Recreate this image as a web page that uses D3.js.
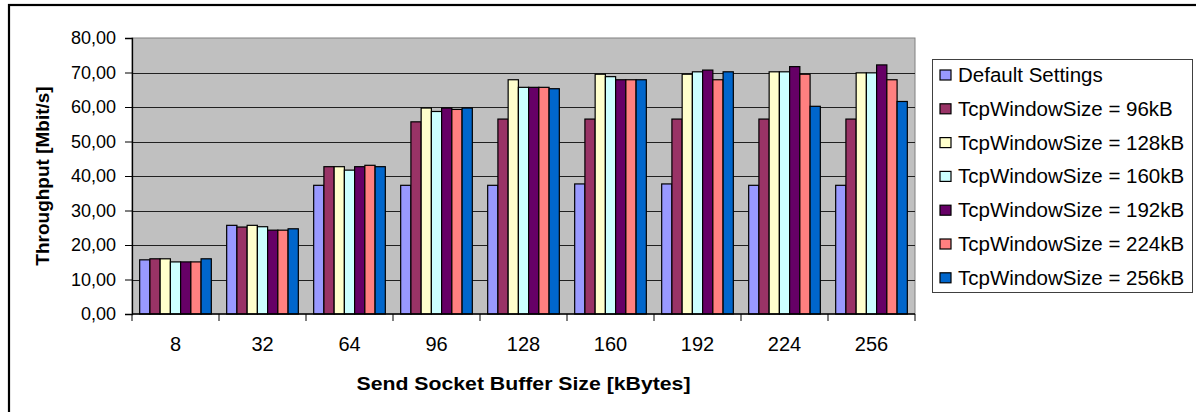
<!DOCTYPE html>
<html>
<head>
<meta charset="utf-8">
<script src="https://cdn.jsdelivr.net/npm/d3@7"></script>
<style>
  html, body { margin: 0; padding: 0; background: #fff; }
  svg { display: block; font-family: Arial, "Liberation Sans", sans-serif; }
</style>
</head>
<body>
<svg id="chart" width="1196" height="412"></svg>
<script>
// Values
const categories = ['8', '32', '64', '96', '128', '160', '192', '224', '256'];
const seriesNames = [
  'Default Settings',
  'TcpWindowSize = 96kB',
  'TcpWindowSize = 128kB',
  'TcpWindowSize = 160kB',
  'TcpWindowSize = 192kB',
  'TcpWindowSize = 224kB',
  'TcpWindowSize = 256kB'
];
const defaultSettings = [15.7, 25.7, 37.3, 37.3, 37.3, 37.7, 37.7, 37.3, 37.3];
const win96 = [16.0, 25.2, 42.7, 55.7, 56.5, 56.5, 56.5, 56.5, 56.5];
const win128 = [16.0, 25.7, 42.7, 59.7, 67.9, 69.5, 69.5, 70.2, 69.9];
const win160 = [15.1, 25.3, 41.7, 58.7, 65.7, 68.8, 70.2, 70.2, 69.9];
const win192 = [15.1, 24.3, 42.7, 59.7, 65.7, 67.9, 70.7, 71.7, 72.2];
const win224 = [15.1, 24.3, 43.1, 59.3, 65.7, 67.9, 67.9, 69.5, 67.9];
const win256 = [16.0, 24.7, 42.7, 59.7, 65.3, 67.9, 70.2, 60.2, 61.6];
const yTicks = [0, 10, 20, 30, 40, 50, 60, 70, 80];

const seriesValues = [defaultSettings, win96, win128, win160, win192, win224, win256];
const colors = ['#9999FF', '#993366', '#FFFFCC', '#CCFFFF', '#660066', '#FF8080', '#0066CC'];

const svg = d3.select('#chart');

// Outer chart border (runs off the right and bottom of the picture)
svg.append('rect')
  .attr('x', 9).attr('y', 5)
  .attr('width', 1200).attr('height', 420)
  .attr('fill', 'none').attr('stroke', '#000').attr('stroke-width', 2.2);

const plot = { left: 132, right: 915, top: 38, bottom: 314 };

const xScale = d3.scaleBand()
  .domain(categories)
  .range([plot.left, plot.right]);

// Excel gap width 150% -> 1.5 bar widths of space per category
const barW = xScale.bandwidth() / (seriesNames.length + 1.5);
const xInner = d3.scaleBand()
  .domain(seriesNames)
  .range([barW * 0.75, xScale.bandwidth() - barW * 0.75]);

const yScale = d3.scaleLinear().domain([0, 80]).range([plot.bottom, plot.top]);

// Plot area background
svg.append('rect')
  .attr('x', plot.left).attr('y', plot.top)
  .attr('width', plot.right - plot.left).attr('height', plot.bottom - plot.top)
  .attr('fill', '#C0C0C0')
  .attr('stroke', '#808080').attr('stroke-width', 1);

// Gridlines
svg.append('g')
  .selectAll('line')
  .data(yTicks.filter((d) => d > 0 && d < 80))
  .join('line')
  .attr('x1', plot.left).attr('x2', plot.right)
  .attr('y1', (d) => Math.round(yScale(d)) + 0.5)
  .attr('y2', (d) => Math.round(yScale(d)) + 0.5)
  .attr('stroke', '#202020').attr('stroke-width', 1);

// Bars
const groups = svg.append('g')
  .selectAll('g')
  .data(categories)
  .join('g')
  .attr('transform', (d) => `translate(${xScale(d)},0)`);

groups.selectAll('rect')
  .data((c, ci) => seriesNames.map((s, si) => ({ s, si, v: seriesValues[si][ci] })))
  .join('rect')
  .attr('x', (d) => xInner(d.s))
  .attr('y', (d) => yScale(d.v))
  .attr('width', xInner.bandwidth())
  .attr('height', (d) => yScale(0) - yScale(d.v))
  .attr('fill', (d) => colors[d.si])
  .attr('stroke', '#000').attr('stroke-width', 1.2);

// Y axis
const yAxis = d3.axisLeft(yScale)
  .tickValues(yTicks)
  .tickSize(7)
  .tickPadding(9)
  .tickFormat((d) => d3.format('.2f')(d).replace('.', ','));

const yAxisG = svg.append('g')
  .attr('transform', `translate(${plot.left},0)`)
  .call(yAxis);
yAxisG.select('.domain').attr('stroke', '#000').attr('stroke-width', 1.3);
yAxisG.selectAll('.tick line').attr('stroke', '#000');
yAxisG.selectAll('.tick text')
  .attr('font-size', 18).attr('fill', '#000')
  .attr('font-family', 'Arial, "Liberation Sans", sans-serif');

// X axis: ticks at category boundaries
const xAxisG = svg.append('g')
  .attr('transform', `translate(0,${plot.bottom})`);
xAxisG.append('line')
  .attr('x1', plot.left).attr('x2', plot.right)
  .attr('stroke', '#000').attr('stroke-width', 1.3);
xAxisG.selectAll('line.tick')
  .data(categories.concat(['end']))
  .join('line')
  .attr('class', 'tick')
  .attr('x1', (d, i) => plot.left + i * xScale.step())
  .attr('x2', (d, i) => plot.left + i * xScale.step())
  .attr('y1', 0).attr('y2', 7)
  .attr('stroke', '#000');
xAxisG.selectAll('text')
  .data(categories)
  .join('text')
  .attr('x', (d) => xScale(d) + xScale.bandwidth() / 2)
  .attr('y', 37)
  .attr('text-anchor', 'middle')
  .attr('font-size', 20)
  .attr('fill', '#000')
  .text((d) => d);

// Axis titles
svg.append('text')
  .attr('x', (plot.left + plot.right) / 2)
  .attr('y', 390)
  .attr('text-anchor', 'middle')
  .attr('font-size', 19)
  .attr('font-weight', 'bold')
  .attr('textLength', 334)
  .attr('lengthAdjust', 'spacingAndGlyphs')
  .text('Send Socket Buffer Size [kBytes]');

svg.append('text')
  .attr('transform', `translate(49,${(plot.top + plot.bottom) / 2}) rotate(-90)`)
  .attr('text-anchor', 'middle')
  .attr('font-size', 19)
  .attr('font-weight', 'bold')
  .text('Throughput [Mbit/s]');

// Legend
const legend = svg.append('g').attr('transform', 'translate(932,59)');
legend.append('rect')
  .attr('x', 0.5).attr('y', 0.5)
  .attr('width', 260).attr('height', 233)
  .attr('fill', '#fff').attr('stroke', '#404040').attr('stroke-width', 1);

const items = legend.selectAll('g.item')
  .data(seriesNames)
  .join('g')
  .attr('class', 'item')
  .attr('transform', (d, i) => `translate(0,${16 + i * 33.8})`);
items.append('rect')
  .attr('x', 8).attr('y', -5)
  .attr('width', 11).attr('height', 10)
  .attr('fill', (d, i) => colors[i])
  .attr('stroke', '#000').attr('stroke-width', 1.2);
items.append('text')
  .attr('x', 26).attr('y', 7)
  .attr('font-size', 20.5)
  .attr('fill', '#000')
  .text((d) => d);
</script>
</body>
</html>
